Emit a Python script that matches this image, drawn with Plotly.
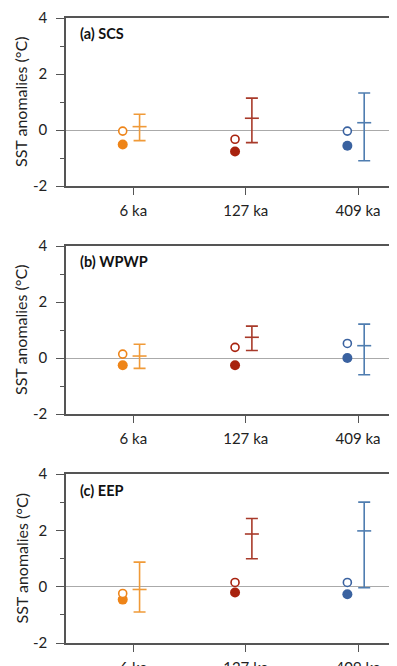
import plotly.graph_objects as go

periods = ["6 ka", "127 ka", "409 ka"]
panels = ["(a) SCS", "(b) WPWP", "(c) EEP"]
ytick_vals = [-2, 0, 2, 4]
ytick_text = ["-2", "0", "2", "4"]

# open-circle values
open_a = [-0.04, -0.33, -0.04]
open_b = [0.14, 0.38, 0.52]
open_c = [-0.24, 0.15, 0.15]
# filled-circle values
filled_a = [-0.52, -0.77, -0.56]
filled_b = [-0.26, -0.26, 0.0]
filled_c = [-0.46, -0.21, -0.27]
# error bar: middle, upper, lower
mid_a = [0.12, 0.42, 0.26]
hi_a = [0.56, 1.14, 1.32]
lo_a = [-0.38, -0.45, -1.10]
mid_b = [0.07, 0.74, 0.44]
hi_b = [0.49, 1.14, 1.21]
lo_b = [-0.37, 0.27, -0.60]
mid_c = [-0.10, 1.87, 1.98]
hi_c = [0.87, 2.42, 3.00]
lo_c = [-0.90, 0.99, -0.04]

fill_colors = ["#EE8418", "#A8220E", "#3A62A0"]
bar_colors = ["#F09A38", "#A83A2A", "#4F7DB0"]

OFF = 8  # page body margin
W, H = 397 - OFF, 666 - OFF
FONT = "Lato"
# panel pixel extents in window coords (top, bottom)
px_extents = [(18, 186), (246, 414), (474, 643)]
x0 = 66

data = [
    (open_a, filled_a, mid_a, hi_a, lo_a),
    (open_b, filled_b, mid_b, hi_b, lo_b),
    (open_c, filled_c, mid_c, hi_c, lo_c),
]

fig = go.Figure()
layout = dict(
    width=W, height=H,
    margin=dict(l=0, r=0, t=0, b=0),
    paper_bgcolor="white", plot_bgcolor="white",
    showlegend=False,
    template="none",
    font=dict(family=FONT, size=15, color="#222222"),
)

annotations = []
for p, (op, fi, mi, hi, lo) in enumerate(data):
    xa = "x" if p == 0 else f"x{p+1}"
    ya = "y" if p == 0 else f"y{p+1}"
    for i in range(3):
        fig.add_trace(go.Scatter(
            x=[i + 0.055], y=[mi[i]], xaxis=xa, yaxis=ya, mode="markers",
            marker=dict(symbol="line-ew", size=10, line=dict(color=bar_colors[i], width=1.6)),
            error_y=dict(type="data", symmetric=False,
                         array=[hi[i] - mi[i]], arrayminus=[mi[i] - lo[i]],
                         color=bar_colors[i], thickness=1.6, width=6),
            hoverinfo="skip"))
        fig.add_trace(go.Scatter(
            x=[i - 0.095], y=[fi[i]], xaxis=xa, yaxis=ya, mode="markers",
            marker=dict(symbol="circle", size=10, color=fill_colors[i], line=dict(width=0)),
            hoverinfo="skip"))
        fig.add_trace(go.Scatter(
            x=[i - 0.095], y=[op[i]], xaxis=xa, yaxis=ya, mode="markers",
            marker=dict(symbol="circle", size=8, color="white",
                        line=dict(color=fill_colors[i], width=1.6)),
            hoverinfo="skip"))

    top, bot = px_extents[p]
    top -= OFF
    bot -= OFF
    dom_y = [1 - bot / H, 1 - top / H]
    xkey = "xaxis" if p == 0 else f"xaxis{p+1}"
    ykey = "yaxis" if p == 0 else f"yaxis{p+1}"
    layout[xkey] = dict(
        domain=[(x0 - OFF) / W, 1], range=[-0.6, 2.347], anchor=ya,
        tickvals=[0, 1, 2], ticktext=periods,
        ticks="outside", ticklen=7, tickwidth=1.3, tickcolor="#555555",
        showline=True, linecolor="#555555", linewidth=1.6, mirror=True,
        showgrid=False, zeroline=False, automargin=False,
        ticklabelstandoff=3,
        tickfont=dict(family=FONT, size=15, color="#222222"),
    )
    layout[ykey] = dict(
        domain=dom_y, range=[-2, 4], anchor=xa,
        tickvals=ytick_vals, ticktext=ytick_text,
        ticks="outside", ticklen=8, tickwidth=1.3, tickcolor="#555555",
        minor=dict(tickvals=[-1, 1, 3], ticks="outside", ticklen=4,
                   tickwidth=1.2, tickcolor="#555555"),
        showline=True, linecolor="#555555", linewidth=1.6,
        showgrid=False, zeroline=True, zerolinecolor="#AAAAAA", zerolinewidth=1,
        automargin=False, ticklabelstandoff=6,
        tickfont=dict(family=FONT, size=15, color="#222222"),
    )
    annotations.append(dict(
        text="SST anomalies (°C)", textangle=-90,
        xref="paper", yref="paper", x=(21 - OFF) / W, y=1 - (top + bot) / 2 / H,
        xanchor="center", yanchor="middle", showarrow=False,
        font=dict(family=FONT, size=16, color="#222222")))
    annotations.append(dict(
        text=f"<b>{panels[p]}</b>",
        xref="paper", yref="paper", x=(78 - OFF) / W, y=1 - (top + 16) / H,
        xanchor="left", yanchor="middle", showarrow=False,
        font=dict(family=FONT, size=14.5, color="#111111")))

layout["annotations"] = annotations
fig.update_layout(**layout)
fig.write_html("out.html")
